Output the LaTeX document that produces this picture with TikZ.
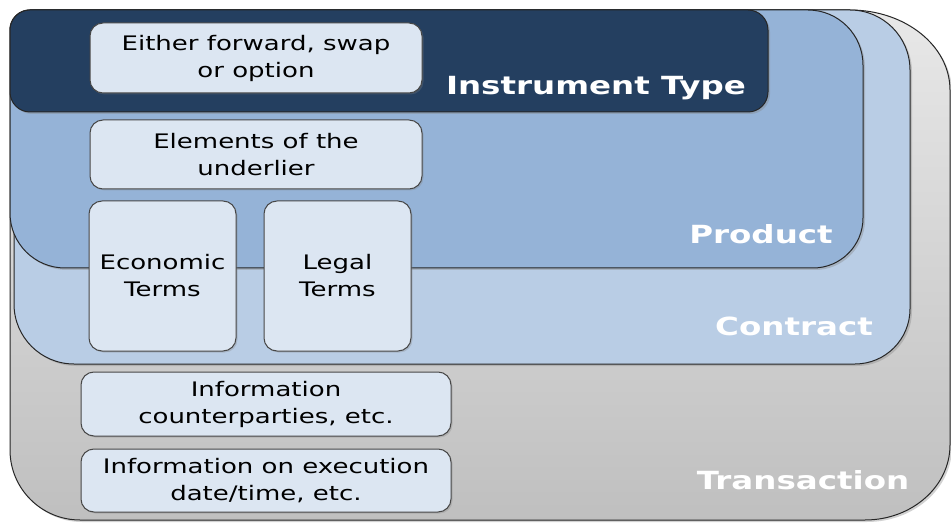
\documentclass[tikz,border=0pt]{standalone}
\usepackage{fontspec}
\setmainfont[FakeStretch=1.3]{DejaVu Sans}
\usetikzlibrary{shadows}
\definecolor{navy}{HTML}{243F60}
\definecolor{prodblue}{HTML}{95B3D7}
\definecolor{contblue}{HTML}{B9CDE5}
\definecolor{boxfill}{HTML}{DCE6F2}
\definecolor{edge}{HTML}{262626}
\tikzset{
  layer/.style={draw=edge, line width=1pt, drop shadow={shadow xshift=2pt, shadow yshift=-2pt, opacity=0.35}},
  inbox/.style={draw=edge!85, line width=1pt, fill=boxfill, rounded corners=13pt, align=center, inner sep=0pt,
     font=\fontsize{20}{27}\selectfont, text=black,
     drop shadow={shadow xshift=1.5pt, shadow yshift=-1.5pt, opacity=0.3}},
  layerlabel/.style={font=\fontsize{25}{30}\selectfont\bfseries, text=white, inner sep=0pt}
}
\begin{document}
\begin{tikzpicture}[x=1pt,y=1pt]
\useasboundingbox (0,0) rectangle (951,523);
\fill[white] (0,0) rectangle (951,523);
% Transaction
\path[layer, top color=gray!18, bottom color=gray!50]
  (10,73) -- (10,493) arc[start angle=180,end angle=90,radius=20]
  -- (850,513) arc[start angle=90,end angle=0,x radius=100,y radius=80]
  -- (950,78) arc[start angle=0,end angle=-90,x radius=85,y radius=75]
  -- (80,3) arc[start angle=270,end angle=180,radius=70] -- cycle;
% Contract
\path[layer, fill=contblue]
  (14,219) -- (14,493) arc[start angle=180,end angle=90,radius=20]
  -- (850,513) arc[start angle=90,end angle=0,radius=60]
  -- (910,214) arc[start angle=0,end angle=-90,radius=55]
  -- (74,159) arc[start angle=270,end angle=180,radius=60] -- cycle;
% Product
\path[layer, fill=prodblue]
  (10,310) -- (10,493) arc[start angle=180,end angle=90,radius=20]
  -- (808,513) arc[start angle=90,end angle=0,radius=55]
  -- (863,305) arc[start angle=0,end angle=-90,radius=50]
  -- (65,255) arc[start angle=270,end angle=180,radius=55] -- cycle;
% Instrument type
\path[layer, fill=navy, rounded corners=20pt] (10,411) rectangle (768,513);

\node[layerlabel] (lit) at (596,435) {Instrument Type};
\node[layerlabel] (lpr) at (761,289) {Product};
\node[layerlabel] (lco) at (794,197) {Contract};
\node[layerlabel] (ltr) at (803,43) {Transaction};

\node[inbox, minimum width=332pt, minimum height=70pt] (either) at (256,465) {Either forward, swap\\or option};
\node[inbox, minimum width=332pt, minimum height=69pt] (elem) at (256,368.5) {Elements of the\\underlier};
\node[inbox, minimum width=147pt, minimum height=150pt] (econ) at (162.5,247) {Economic\\Terms};
\node[inbox, minimum width=147pt, minimum height=150pt] (legal) at (337.5,247) {Legal\\Terms};
\node[inbox, minimum width=370pt, minimum height=64pt] (info1) at (266,119) {Information\\counterparties, etc.};
\node[inbox, minimum width=370pt, minimum height=63pt] (info2) at (266,42.5) {Information on execution\\date/time, etc.};
\end{tikzpicture}
\end{document}
